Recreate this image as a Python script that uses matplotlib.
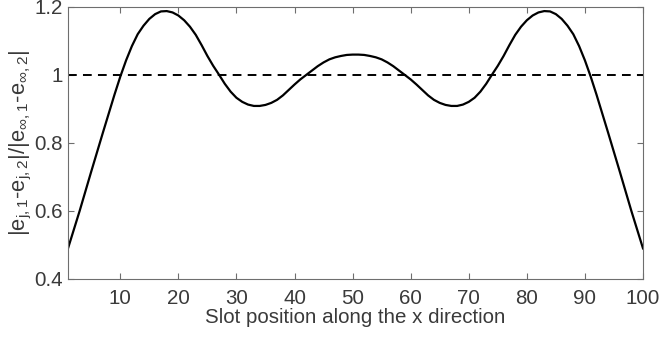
import numpy as np
import matplotlib
matplotlib.use("Agg")
import matplotlib.pyplot as plt
from matplotlib.ticker import FuncFormatter

# --- Data ---
slot_position = list(range(1, 101))

error_ratio = [
    0.490, 0.545, 0.600, 0.658, 0.716, 0.773, 0.830, 0.886, 0.942, 0.995,
    1.043, 1.085, 1.120, 1.145, 1.165, 1.179, 1.187, 1.188, 1.184, 1.175,
    1.161, 1.142, 1.118, 1.088, 1.056, 1.027, 1.001, 0.974, 0.951, 0.933,
    0.921, 0.913, 0.909, 0.909, 0.912, 0.918, 0.927, 0.940, 0.956, 0.972,
    0.987, 1.000, 1.013, 1.026, 1.037, 1.046, 1.052, 1.056, 1.059, 1.060,
    1.060, 1.059, 1.056, 1.052, 1.046, 1.037, 1.026, 1.013, 1.000, 0.987,
    0.972, 0.956, 0.940, 0.927, 0.918, 0.912, 0.909, 0.909, 0.913, 0.921,
    0.933, 0.951, 0.974, 1.001, 1.027, 1.056, 1.088, 1.118, 1.142, 1.161,
    1.175, 1.184, 1.188, 1.187, 1.179, 1.165, 1.145, 1.120, 1.085, 1.043,
    0.995, 0.942, 0.886, 0.830, 0.773, 0.716, 0.658, 0.600, 0.545, 0.490,
]

reference_level = 1.0
x_ticks = [10, 20, 30, 40, 50, 60, 70, 80, 90, 100]
y_ticks = [0.4, 0.6, 0.8, 1.0, 1.2]

# --- Style ---
TEXT_COLOR = "#3a3a3a"
AXIS_COLOR = "#6e6e6e"
FONT_SIZE = 14.8
plt.rcParams["font.family"] = ["Liberation Sans", "DejaVu Sans"]
plt.rcParams["mathtext.fontset"] = "custom"
plt.rcParams["mathtext.rm"] = "Liberation Sans"
plt.rcParams["mathtext.it"] = "Liberation Sans"

fig = plt.figure(figsize=(6.59, 3.41), dpi=100)
ax = fig.add_axes([68 / 659, 62 / 341, 575 / 659, 272 / 341])

ax.plot(slot_position, error_ratio, color="black", linewidth=1.6)
ax.plot([slot_position[0], slot_position[-1]], [reference_level, reference_level],
        color="black", linewidth=1.4, linestyle=(0, (4.5, 3.2)))

ax.set_xlim(1, 100)
ax.set_ylim(0.4, 1.2)
ax.set_xticks(x_ticks)
ax.set_yticks(y_ticks)
ax.yaxis.set_major_formatter(FuncFormatter(lambda v, p: f"{v:g}"))

for side in ax.spines.values():
    side.set_color(AXIS_COLOR)
    side.set_linewidth(0.8)
ax.tick_params(direction="in", length=4.5, width=0.8, color=AXIS_COLOR,
               labelcolor=TEXT_COLOR, top=True, right=True,
               labelsize=FONT_SIZE, pad=4)
ax.tick_params(axis="x", pad=7.5)

ax.set_xlabel("Slot position along the x direction", color=TEXT_COLOR,
              fontsize=FONT_SIZE, labelpad=-0.5)
ax.set_ylabel(r"|e$_{\mathrm{j,1}}$-e$_{\mathrm{j,2}}$|/|e$_{\mathrm{\infty,1}}$-e$_{\mathrm{\infty,2}}$|",
              color=TEXT_COLOR, fontsize=15.8, labelpad=0)

fig.savefig("out.png", dpi=100)
